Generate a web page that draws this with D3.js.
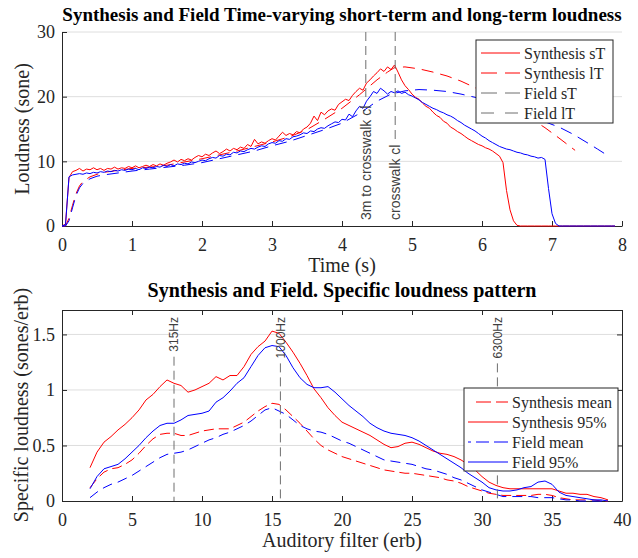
<!DOCTYPE html>
<html>
<head>
<meta charset="utf-8">
<script src="https://cdn.jsdelivr.net/npm/d3@7"></script>
<style>
body { margin: 0; background: #fff; }
svg { display: block; }
</style>
</head>
<body>
<svg id="chart" width="638" height="558"></svg>
<script>
// ---------- top panel data (loudness vs time) ----------
// short-term loudness, one sample every 0.05 s from t = 0
var synthST = [
  0, 0.3, 7.5, 8.4, 8.6, 8.9, 8.5, 8.8, 8.7, 9.0, 8.7, 8.9, 8.6, 8.9, 8.8, 9.1, 8.8, 9.0, 8.9, 9.2,
  9.0, 9.3, 9.0, 9.2, 9.4, 9.2, 9.5, 9.3, 9.6, 9.4, 9.7, 9.9, 10.2, 9.9, 10.3, 10.1, 10.4, 10.2, 10.6, 10.9,
  10.7, 11.1, 10.9, 11.3, 11.6, 11.2, 11.5, 11.9, 11.6, 12.0, 11.8, 12.2, 12.0, 12.6, 12.3, 13.4, 12.7, 13.0, 12.8, 13.2,
  13.5, 13.3, 13.9, 14.5, 14.0, 14.3, 14.1, 14.6, 14.4, 15.0, 15.3, 15.9, 17.0, 16.3, 17.6, 17.2, 17.8, 18.1, 17.9, 18.8,
  19.2, 19.6, 19.4, 20.2, 20.8, 21.3, 21.0, 22.1, 22.6, 23.2, 23.7, 24.3, 23.9, 24.6, 24.2, 24.9, 23.8, 22.6, 21.7, 21.1,
  20.4, 19.9, 19.6, 19.0, 18.5, 18.2, 17.6, 17.1, 16.8, 16.2, 15.9, 15.3, 15.0, 14.6, 14.3, 13.9, 13.5, 13.2, 12.9, 12.6,
  12.4, 12.1, 11.9, 11.6, 11.2, 10.8, 9.8, 5.5, 2.5, 0.8, 0.1, 0, 0, 0, 0, 0, 0, 0, 0, 0,
  0, 0, 0, 0, 0, 0, 0, 0, 0, 0, 0, 0, 0, 0, 0, 0, 0, 0, 0
];
var fieldST = [
  0, 0.2, 7.6, 7.9, 8.0, 8.1, 8.0, 8.2, 8.1, 8.3, 8.2, 8.4, 8.3, 8.5, 8.4, 8.6, 8.5, 8.7, 8.6, 8.8,
  8.7, 8.9, 8.7, 9.0, 8.9, 9.1, 9.0, 9.2, 9.1, 9.4, 9.2, 9.5, 9.3, 9.6, 9.5, 9.7, 9.6, 9.9, 9.8, 10.0,
  10.2, 10.1, 10.4, 10.6, 10.5, 10.9, 10.8, 11.1, 11.0, 11.4, 11.3, 11.6, 11.5, 11.8, 12.0, 11.9, 12.2, 12.4, 12.3, 12.7,
  12.9, 12.8, 13.2, 13.1, 13.5, 13.4, 13.8, 13.9, 14.1, 14.4, 14.3, 14.7, 14.6, 15.0, 15.2, 15.1, 15.5, 15.8, 16.1, 16.0,
  16.5, 16.4, 17.3, 16.9, 17.8, 18.5, 18.2, 19.3, 20.0, 20.8, 20.5, 21.3, 20.9, 20.4, 20.8, 20.6, 20.9, 20.5, 20.7, 20.3,
  20.1, 19.8, 19.5, 19.1, 18.8, 18.5, 18.2, 18.0, 17.7, 17.5, 17.2, 17.0, 16.7, 16.3, 16.0, 15.6, 15.3, 15.0, 14.7, 14.3,
  13.9, 13.6, 13.2, 12.9, 12.6, 12.3, 12.1, 11.9, 11.8, 11.6, 11.4, 11.3, 11.1, 11.0, 10.8, 10.7, 10.5, 10.6, 10.3, 5.8,
  1.9, 0.4, 0, 0, 0, 0, 0, 0, 0, 0, 0, 0, 0, 0, 0, 0, 0, 0, 0
];
var stTime = synthST.map(function(d, i) { return i * 0.05; });

// long-term loudness (smooth), sampled at uneven times
var synthLTtime = [0, 0.05, 0.1, 0.15, 0.2, 0.25, 0.3, 0.4, 0.5, 0.6, 0.8, 1.0, 1.25, 1.5, 1.75, 2.0, 2.25, 2.5, 2.75, 3.0,
  3.25, 3.5, 3.75, 4.0, 4.25, 4.5, 4.65, 4.75, 4.9, 5.1, 5.3, 5.5, 5.7, 5.9, 6.1, 6.3, 6.5, 6.7, 6.9, 7.1, 7.33];
var synthLT = [0, 0, 1.2, 3.2, 5.0, 6.2, 6.9, 7.6, 8.0, 8.3, 8.6, 8.9, 9.1, 9.4, 9.9, 10.4, 11.0, 11.6, 12.3, 13.0,
  13.8, 14.9, 16.5, 18.2, 20.3, 22.6, 23.8, 24.5, 24.6, 24.3, 23.8, 23.2, 22.4, 21.4, 20.2, 19.0, 17.9, 16.6, 15.2, 13.6, 11.7];
var fieldLTtime = [0, 0.05, 0.1, 0.15, 0.2, 0.25, 0.3, 0.4, 0.5, 0.6, 0.8, 1.0, 1.25, 1.5, 1.75, 2.0, 2.25, 2.5, 2.75, 3.0,
  3.25, 3.5, 3.75, 4.0, 4.25, 4.5, 4.7, 4.9, 5.1, 5.3, 5.5, 5.7, 5.9, 6.1, 6.3, 6.5, 6.7, 6.9, 7.1, 7.3, 7.5, 7.65, 7.78];
var fieldLT = [0, 0, 0.8, 2.8, 4.7, 5.9, 6.6, 7.3, 7.7, 7.9, 8.2, 8.5, 8.8, 9.1, 9.4, 9.8, 10.4, 11.0, 11.6, 12.4,
  13.1, 14.0, 14.9, 15.9, 17.4, 19.3, 20.4, 20.9, 21.1, 21.0, 20.8, 20.4, 19.9, 19.2, 18.5, 17.7, 16.9, 16.1, 15.3, 14.2, 12.9, 11.9, 11.0];

var timeTicks = [0, 1, 2, 3, 4, 5, 6, 7, 8];
var loudTicks = [0, 10, 20, 30];
var timeMarks = [4.34, 4.76];
var timeMarkLabels = ["3m to crosswalk cl", "crosswalk cl"];
var topLegend = ["Synthesis sT", "Synthesis lT", "Field sT", "Field lT"];

// ---------- bottom panel data (specific loudness vs erb) ----------
var erb = [2, 2.5, 3, 3.5, 4, 4.5, 5, 5.5, 6, 6.5, 7, 7.5, 8, 8.5, 9, 9.5, 10, 10.5, 11, 11.5,
  12, 12.5, 13, 13.5, 14, 14.5, 15, 15.5, 16, 16.5, 17, 17.5, 18, 18.5, 19, 19.5, 20, 20.5, 21, 21.5,
  22, 22.5, 23, 23.5, 24, 24.5, 25, 25.5, 26, 26.5, 27, 27.5, 28, 28.5, 29, 29.5, 30, 30.5, 31, 31.5,
  32, 32.5, 33, 33.5, 34, 34.5, 35, 35.5, 36, 36.5, 37, 37.5, 38, 38.5, 39];
var synthMean = [0.12, 0.20, 0.26, 0.29, 0.30, 0.33, 0.37, 0.43, 0.50, 0.56, 0.60, 0.61, 0.61, 0.59, 0.59, 0.61, 0.63, 0.64, 0.65, 0.65,
  0.65, 0.68, 0.71, 0.76, 0.81, 0.85, 0.88, 0.87, 0.82, 0.76, 0.70, 0.63, 0.56, 0.50, 0.46, 0.43, 0.40, 0.38, 0.36, 0.34,
  0.32, 0.30, 0.28, 0.27, 0.26, 0.25, 0.25, 0.24, 0.23, 0.22, 0.21, 0.19, 0.18, 0.16, 0.13, 0.11, 0.09, 0.07, 0.06, 0.05,
  0.05, 0.05, 0.05, 0.05, 0.06, 0.06, 0.05, 0.03, 0.02, 0.01, 0.01, 0.01, 0.01, 0.00, 0.00];
var synth95 = [0.30, 0.44, 0.53, 0.58, 0.64, 0.69, 0.75, 0.82, 0.91, 0.96, 1.03, 1.09, 1.06, 1.04, 0.98, 1.00, 1.03, 1.06, 1.12, 1.09,
  1.13, 1.13, 1.21, 1.32, 1.39, 1.44, 1.53, 1.51, 1.43, 1.34, 1.24, 1.13, 1.01, 0.93, 0.84, 0.77, 0.71, 0.68, 0.65, 0.62,
  0.59, 0.55, 0.51, 0.48, 0.49, 0.52, 0.53, 0.51, 0.48, 0.45, 0.43, 0.42, 0.40, 0.37, 0.33, 0.28, 0.22, 0.17, 0.14, 0.12,
  0.11, 0.11, 0.11, 0.11, 0.11, 0.11, 0.11, 0.09, 0.07, 0.07, 0.06, 0.06, 0.04, 0.03, 0.01];
var fieldMean = [0.03, 0.08, 0.12, 0.15, 0.17, 0.20, 0.23, 0.27, 0.31, 0.35, 0.39, 0.42, 0.43, 0.44, 0.46, 0.49, 0.52, 0.55, 0.57, 0.60,
  0.62, 0.65, 0.68, 0.72, 0.77, 0.82, 0.84, 0.81, 0.78, 0.73, 0.68, 0.65, 0.63, 0.62, 0.60, 0.57, 0.54, 0.52, 0.49, 0.46,
  0.43, 0.40, 0.37, 0.36, 0.35, 0.34, 0.33, 0.31, 0.29, 0.28, 0.26, 0.24, 0.21, 0.19, 0.16, 0.13, 0.10, 0.08, 0.06, 0.04,
  0.04, 0.04, 0.04, 0.04, 0.03, 0.03, 0.03, 0.02, 0.01, 0.01, 0.00, 0.00, 0.00, 0.00, 0.00];
var field95 = [0.11, 0.22, 0.29, 0.31, 0.33, 0.38, 0.44, 0.50, 0.57, 0.63, 0.68, 0.70, 0.70, 0.73, 0.77, 0.78, 0.79, 0.81, 0.89, 0.93,
  0.99, 1.06, 1.11, 1.21, 1.31, 1.38, 1.40, 1.39, 1.31, 1.20, 1.11, 1.05, 1.02, 1.02, 1.03, 0.98, 0.92, 0.86, 0.81, 0.76,
  0.70, 0.66, 0.63, 0.61, 0.60, 0.59, 0.57, 0.54, 0.50, 0.46, 0.42, 0.38, 0.34, 0.30, 0.25, 0.21, 0.17, 0.12, 0.10, 0.09,
  0.09, 0.10, 0.12, 0.13, 0.17, 0.18, 0.15, 0.08, 0.05, 0.04, 0.03, 0.02, 0.01, 0.01, 0.00];

var erbTicks = [0, 5, 10, 15, 20, 25, 30, 35, 40];
var specTicks = [0, 0.5, 1, 1.5];
var freqMarks = [8, 15.6, 31.1];
var freqMarkLabels = ["315Hz", "1000Hz", "6300Hz"];
var bottomLegend = ["Synthesis mean", "Synthesis 95%", "Field mean", "Field 95%"];

// ---------- drawing ----------
var svg = d3.select("#chart");
var serif = '"Liberation Serif", "Times New Roman", serif';
var sans = '"Liberation Sans", Arial, sans-serif';
var axisCol = "#262626";
var RED = "#ff0000", BLUE = "#0000ff", GRAY = "#6e6e6e";

var topBox = {l: 62, r: 622, t: 32, b: 226};
var botBox = {l: 62, r: 622, t: 310, b: 501};

var xTop = d3.scaleLinear().domain([0, 8]).range([topBox.l, topBox.r]);
var yTop = d3.scaleLinear().domain([0, 30]).range([topBox.b, topBox.t]);
var xBot = d3.scaleLinear().domain([0, 40]).range([botBox.l, botBox.r]);
var yBot = d3.scaleLinear().domain([0, 1.72]).range([botBox.b, botBox.t]);

function grid(box, y, ticks) {
  svg.append("g").selectAll("line")
    .data(ticks.filter(function(d) { return d > 0; }))
    .join("line")
    .attr("x1", box.l).attr("x2", box.r)
    .attr("y1", function(d) { return y(d); })
    .attr("y2", function(d) { return y(d); })
    .attr("stroke", "#dedede").attr("stroke-width", 1);
}

function styleAxis(g) {
  g.select(".domain").attr("stroke", axisCol).attr("stroke-width", 1);
  g.selectAll(".tick line").attr("stroke", axisCol).attr("stroke-width", 1);
  g.selectAll("text").attr("fill", axisCol).style("font-family", serif).style("font-size", "18px");
}

function axes(box, x, y, xt, yt, yfmt, boxed) {
  var gx = svg.append("g").attr("transform", "translate(0," + box.b + ")")
    .call(d3.axisBottom(x).tickValues(xt).tickSizeInner(-5).tickSizeOuter(0).tickFormat(d3.format("d")));
  styleAxis(gx);
  gx.selectAll("text").attr("y", 25).attr("dy", null);
  var gy = svg.append("g").attr("transform", "translate(" + box.l + ",0)")
    .call(d3.axisLeft(y).tickValues(yt).tickSizeInner(-5).tickSizeOuter(0).tickPadding(7).tickFormat(yfmt));
  styleAxis(gy);
  if (boxed) {
    var gt = svg.append("g").attr("transform", "translate(0," + box.t + ")")
      .call(d3.axisTop(x).tickValues(xt).tickSizeInner(-5).tickSizeOuter(0).tickFormat(""));
    styleAxis(gt);
    var gr = svg.append("g").attr("transform", "translate(" + box.r + ",0)")
      .call(d3.axisRight(y).tickValues(yt).tickSizeInner(-5).tickSizeOuter(0).tickFormat(""));
    styleAxis(gr);
  }
}

function series(xs, ys, x, y, color, dash) {
  var line = d3.line()
    .x(function(d, i) { return x(xs[i]); })
    .y(function(d) { return y(d); });
  svg.append("path").datum(ys)
    .attr("d", line)
    .attr("fill", "none")
    .attr("stroke", color)
    .attr("stroke-width", 1)
    .attr("stroke-dasharray", dash || null);
}

function xlines(box, x, vals, labels, where, fs) {
  vals.forEach(function(v, i) {
    var px = x(v);
    var ty = where === "bottom" ? box.b - 6 : box.t + 7;
    var t = svg.append("text")
      .attr("transform", "translate(" + px + "," + ty + ") rotate(-90)")
      .attr("dy", "0.35em")
      .attr("text-anchor", where === "bottom" ? "start" : "end")
      .style("font-family", sans).style("font-size", fs + "px")
      .attr("fill", "#404040")
      .text(labels[i]);
    var len = t.node().getComputedTextLength();
    var y1, y2;
    if (where === "bottom") { y1 = box.t; y2 = ty - len - 4; }
    else { y1 = ty + len + 5; y2 = box.b; }
    svg.append("line")
      .attr("x1", px).attr("x2", px).attr("y1", y1).attr("y2", y2)
      .attr("stroke", GRAY).attr("stroke-width", 1)
      .attr("stroke-dasharray", "9,5");
  });
}

function legend(x0, y0, w, h, lx1, lx2, tx, rowY, items) {
  var g = svg.append("g");
  g.append("rect").attr("x", x0).attr("y", y0).attr("width", w).attr("height", h)
    .attr("fill", "#fff").attr("stroke", axisCol).attr("stroke-width", 1);
  items.forEach(function(it, i) {
    var yy = rowY[i];
    g.append("line").attr("x1", lx1).attr("x2", lx2).attr("y1", yy).attr("y2", yy)
      .attr("stroke", it.color).attr("stroke-width", 1)
      .attr("stroke-dasharray", it.dash || null);
    g.append("text").attr("x", tx).attr("y", yy).attr("dy", "0.35em")
      .style("font-family", serif).style("font-size", "16px").attr("fill", axisCol)
      .text(it.label);
  });
}

function title(txt, y, fs) {
  svg.append("text").attr("x", 342).attr("y", y).attr("text-anchor", "middle")
    .style("font-family", serif).style("font-size", fs + "px").style("font-weight", "bold")
    .attr("fill", "#000").text(txt);
}

function axisLabel(txt, x, y, rot) {
  svg.append("text")
    .attr("transform", "translate(" + x + "," + y + ")" + (rot ? " rotate(-90)" : ""))
    .attr("text-anchor", "middle")
    .style("font-family", serif).style("font-size", "20px").attr("fill", axisCol)
    .text(txt);
}

// ----- top panel -----
grid(topBox, yTop, loudTicks);
axes(topBox, xTop, yTop, timeTicks, loudTicks, d3.format("d"), false);
series(stTime, synthST, xTop, yTop, RED);
series(synthLTtime, synthLT, xTop, yTop, RED, "12,7");
series(stTime, fieldST, xTop, yTop, BLUE);
series(fieldLTtime, fieldLT, xTop, yTop, BLUE, "12,7");
xlines(topBox, xTop, timeMarks, timeMarkLabels, "bottom", 14);
legend(476, 40, 137, 83, 481, 520, 524, [53, 73, 93, 113], [
  {label: topLegend[0], color: RED},
  {label: topLegend[1], color: RED, dash: "16,8"},
  {label: topLegend[2], color: GRAY, dash: "16,8"},
  {label: topLegend[3], color: GRAY, dash: "13,11"}
]);
title("Synthesis and Field Time-varying short-term and long-term loudness", 21, 19);
axisLabel("Time (s)", 342, 272, false);
axisLabel("Loudness (sone)", 29, 129, true);

// ----- bottom panel -----
grid(botBox, yBot, specTicks);
axes(botBox, xBot, yBot, erbTicks, specTicks, function(d) { return d3.format("")(d); }, true);
series(erb, synthMean, xBot, yBot, RED, "10,5");
series(erb, synth95, xBot, yBot, RED);
series(erb, fieldMean, xBot, yBot, BLUE, "10,6");
series(erb, field95, xBot, yBot, BLUE);
xlines(botBox, xBot, freqMarks, freqMarkLabels, "top", 12);
legend(464, 388, 154, 83, 468, 508, 512, [402, 422, 442, 462], [
  {label: bottomLegend[0], color: RED, dash: "0,8,15,5,12"},
  {label: bottomLegend[1], color: RED},
  {label: bottomLegend[2], color: BLUE, dash: "3,5,13,5,14"},
  {label: bottomLegend[3], color: BLUE}
]);
title("Synthesis and Field. Specific loudness pattern", 297, 20);
axisLabel("Auditory filter (erb)", 342, 547, false);
axisLabel("Specific loudness (sones/erb)", 28, 405, true);
</script>
</body>
</html>
